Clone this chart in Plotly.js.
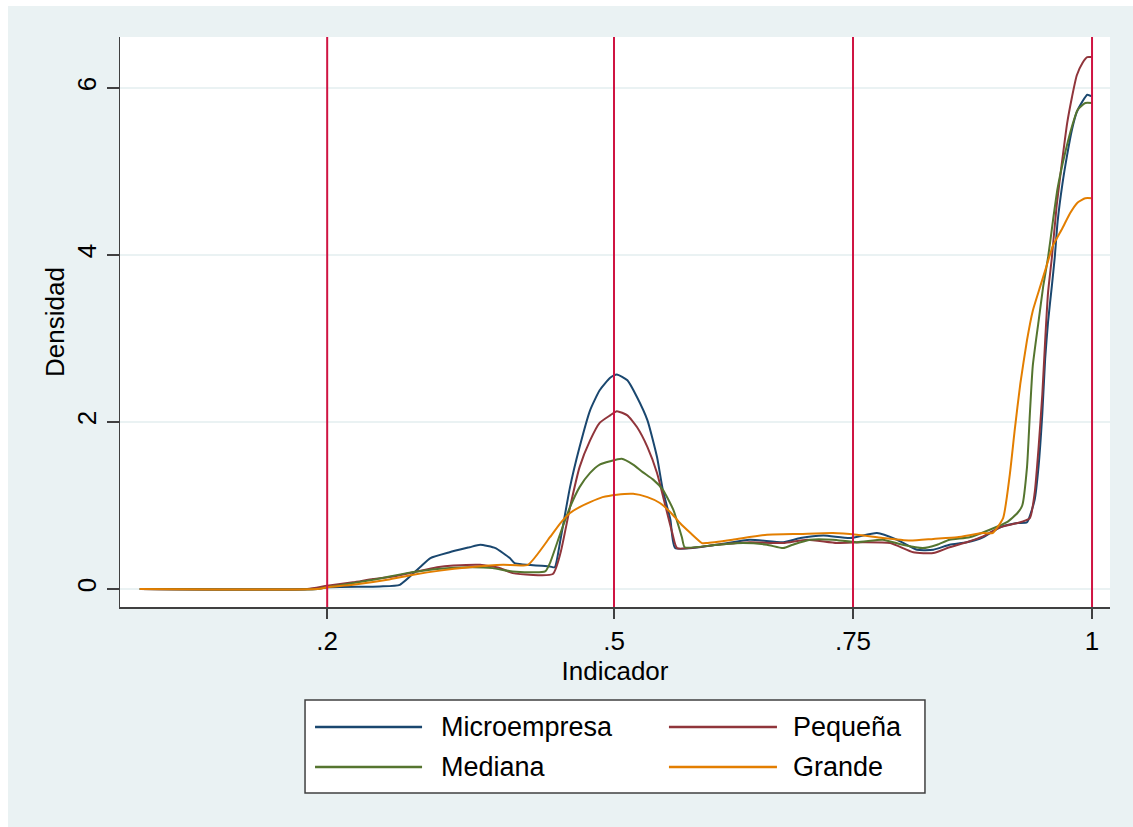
<!DOCTYPE html>
<html>
<head>
<meta charset="utf-8">
<script src="https://cdn.plot.ly/plotly-3.0.1.min.js"></script>
<style>html,body{margin:0;padding:0;background:#fff;}#chart{width:1133px;height:827px;}</style>
</head>
<body>
<div id="chart"></div>
<script>
// ---- Data ----
const seriesNames = ["Microempresa", "Pequeña", "Mediana", "Grande"];

const microX = [0.004, 0.19, 0.2, 0.255, 0.276, 0.297, 0.308, 0.328, 0.349, 0.36, 0.376, 0.391, 0.396, 0.433, 0.438, 0.444, 0.454, 0.464, 0.475, 0.485, 0.496, 0.503, 0.514, 0.524, 0.535, 0.545, 0.551, 0.559, 0.564, 0.608, 0.642, 0.677, 0.695, 0.719, 0.747, 0.775, 0.796, 0.817, 0.834, 0.851, 0.869, 0.886, 0.904, 0.922, 0.932, 0.94, 0.944, 0.948, 0.951, 0.954, 0.958, 0.961, 0.964, 0.969, 0.974, 0.979, 0.984, 0.99, 0.995, 1.0];
const microY = [0, 0, 0.02, 0.03, 0.05, 0.26, 0.37, 0.44, 0.50, 0.53, 0.49, 0.37, 0.31, 0.27, 0.26, 0.59, 1.22, 1.70, 2.14, 2.38, 2.53, 2.57, 2.50, 2.30, 2.02, 1.58, 1.19, 0.83, 0.49, 0.53, 0.59, 0.56, 0.61, 0.64, 0.61, 0.67, 0.59, 0.47, 0.47, 0.53, 0.56, 0.62, 0.74, 0.79, 0.80, 1.07, 1.46, 2.1, 2.76, 3.2, 3.63, 3.97, 4.4, 4.85, 5.2, 5.5, 5.71, 5.84, 5.92, 5.9];

const pequenaX = [0.004, 0.179, 0.2, 0.227, 0.248, 0.269, 0.290, 0.315, 0.332, 0.36, 0.381, 0.394, 0.436, 0.444, 0.454, 0.464, 0.475, 0.485, 0.496, 0.503, 0.514, 0.524, 0.535, 0.545, 0.553, 0.561, 0.566, 0.608, 0.642, 0.677, 0.702, 0.733, 0.760, 0.789, 0.813, 0.834, 0.851, 0.869, 0.886, 0.904, 0.922, 0.935, 0.94, 0.944, 0.948, 0.951, 0.954, 0.958, 0.963, 0.969, 0.974, 0.979, 0.984, 0.99, 0.995, 1.0];
const pequenaY = [0, 0, 0.04, 0.08, 0.12, 0.15, 0.2, 0.26, 0.28, 0.29, 0.25, 0.19, 0.18, 0.43, 0.98, 1.46, 1.78, 1.99, 2.08, 2.13, 2.08, 1.94, 1.70, 1.39, 1.03, 0.67, 0.49, 0.53, 0.56, 0.55, 0.59, 0.55, 0.56, 0.55, 0.44, 0.43, 0.50, 0.56, 0.63, 0.74, 0.79, 0.85, 1.15, 1.68, 2.33, 2.98, 3.55, 3.97, 4.59, 5.15, 5.58, 5.89, 6.15, 6.3, 6.37, 6.37];

const medianaX = [0.004, 0.19, 0.2, 0.248, 0.283, 0.315, 0.349, 0.373, 0.394, 0.428, 0.433, 0.444, 0.454, 0.464, 0.475, 0.485, 0.496, 0.508, 0.520, 0.530, 0.541, 0.551, 0.562, 0.571, 0.574, 0.608, 0.635, 0.660, 0.677, 0.687, 0.705, 0.729, 0.754, 0.781, 0.802, 0.823, 0.838, 0.851, 0.872, 0.893, 0.911, 0.922, 0.927, 0.932, 0.935, 0.938, 0.944, 0.949, 0.954, 0.959, 0.964, 0.972, 0.979, 0.985, 0.993, 1.0];
const medianaY = [0, 0, 0.02, 0.11, 0.19, 0.24, 0.26, 0.25, 0.21, 0.21, 0.31, 0.67, 0.98, 1.22, 1.39, 1.49, 1.53, 1.56, 1.49, 1.40, 1.31, 1.19, 0.95, 0.62, 0.50, 0.53, 0.55, 0.53, 0.49, 0.53, 0.59, 0.59, 0.56, 0.59, 0.53, 0.49, 0.53, 0.59, 0.62, 0.71, 0.80, 0.91, 1.0, 1.46, 2.1, 2.67, 3.2, 3.63, 3.97, 4.4, 4.8, 5.23, 5.54, 5.74, 5.82, 5.82];

const grandeX = [0.004, 0.19, 0.2, 0.227, 0.263, 0.290, 0.318, 0.349, 0.384, 0.410, 0.433, 0.444, 0.454, 0.464, 0.475, 0.488, 0.503, 0.520, 0.535, 0.548, 0.559, 0.569, 0.580, 0.592, 0.597, 0.624, 0.660, 0.695, 0.729, 0.754, 0.781, 0.810, 0.834, 0.859, 0.886, 0.896, 0.907, 0.914, 0.919, 0.925, 0.932, 0.938, 0.946, 0.953, 0.959, 0.969, 0.977, 0.985, 0.993, 1.0];
const grandeY = [0, 0, 0.02, 0.05, 0.11, 0.17, 0.22, 0.26, 0.29, 0.29, 0.62, 0.79, 0.91, 0.98, 1.04, 1.10, 1.13, 1.14, 1.10, 1.03, 0.92, 0.79, 0.67, 0.55, 0.55, 0.59, 0.65, 0.66, 0.67, 0.65, 0.61, 0.58, 0.60, 0.62, 0.67, 0.67, 0.85, 1.37, 1.89, 2.46, 2.98, 3.33, 3.63, 3.89, 4.11, 4.32, 4.5, 4.63, 4.68, 4.68];

const refLines = [0.2, 0.5, 0.75, 1];
const xTickVals = [0.2, 0.5, 0.75, 1];
const xTickText = [".2", ".5", ".75", "1"];
const yTickVals = [0, 2, 4, 6];
const yTickText = ["0", "2", "4", "6"];

// ---- Styles ----
const colors = ["#1a476f", "#90353b", "#55752f", "#e37e00"];
const FONT = "Liberation Sans, Arial, sans-serif";
const BG = "#eaf2f3";

const xs = [microX, pequenaX, medianaX, grandeX];
const ys = [microY, pequenaY, medianaY, grandeY];

const traces = seriesNames.map((n, i) => ({
  type: "scatter", mode: "lines", name: n,
  x: xs[i], y: ys[i],
  line: {color: colors[i], width: 2, shape: "spline", smoothing: 0.5},
  showlegend: false
}));

const shapes = [
  // outer graph region background
  {type: "rect", xref: "paper", yref: "paper", x0: -0.1131, x1: 1.03, y0: -0.40, y1: 1.0544,
   fillcolor: BG, line: {width: 0}, layer: "below"},
  // plot region
  {type: "rect", xref: "paper", yref: "paper", x0: 0, x1: 1, y0: 0, y1: 1,
   fillcolor: "#ffffff", line: {width: 0}, layer: "below"}
];
refLines.forEach(v => shapes.push({
  type: "line", xref: "x", yref: "paper", x0: v, x1: v, y0: 0, y1: 1,
  line: {color: "#cf1442", width: 2}, layer: "above"
}));

// custom legend box (paper coords)
shapes.push({type: "rect", xref: "paper", yref: "paper", x0: 0.1869, x1: 0.8131, y0: -0.3263, y1: -0.1632,
  fillcolor: "#ffffff", line: {color: "#404040", width: 1.5}});
const legPos = [
  {x0: 0.1970, x1: 0.3051, y: -0.2105, tx: 0.3223},
  {x0: 0.5545, x1: 0.6636, y: -0.2105, tx: 0.6778},
  {x0: 0.1970, x1: 0.3051, y: -0.2807, tx: 0.3223},
  {x0: 0.5545, x1: 0.6636, y: -0.2807, tx: 0.6778}
];
const annotations = [];
seriesNames.forEach((n, i) => {
  const p = legPos[i];
  shapes.push({type: "line", xref: "paper", yref: "paper", x0: p.x0, x1: p.x1, y0: p.y, y1: p.y,
    line: {color: colors[i], width: 2.5}});
  annotations.push({xref: "paper", yref: "paper", x: p.tx, y: p.y, xanchor: "left", yanchor: "middle",
    text: n, showarrow: false, font: {family: FONT, size: 27, color: "#000"}});
});

const layout = {
  width: 1133, height: 827,
  margin: {l: 120, r: 23, t: 37, b: 220},
  paper_bgcolor: "#ffffff",
  plot_bgcolor: "#ffffff",
  font: {family: FONT, size: 26, color: "#000"},
  showlegend: false,
  xaxis: {
    range: [-0.0167, 1.0188],
    tickvals: xTickVals, ticktext: xTickText,
    showgrid: false, zeroline: false,
    showline: true, linecolor: "#404040", linewidth: 1.5,
    ticks: "outside", ticklen: 10, tickwidth: 1.5, tickcolor: "#404040",
    tickfont: {family: FONT, size: 26, color: "#000"},
    title: {text: "Indicador", font: {family: FONT, size: 26, color: "#000"}, standoff: 0}
  },
  yaxis: {
    range: [-0.2156, 6.611],
    tickvals: yTickVals, ticktext: yTickText,
    showgrid: true, gridcolor: BG, gridwidth: 2,
    zeroline: false,
    showline: true, linecolor: "#404040", linewidth: 1.5,
    ticks: "outside", ticklen: 12, tickwidth: 1.5, tickcolor: "#404040",
    tickangle: -90,
    tickfont: {family: FONT, size: 26, color: "#000"},
    title: {text: "Densidad", font: {family: FONT, size: 26, color: "#000"}, standoff: 0}
  },
  shapes: shapes,
  annotations: annotations
};

Plotly.newPlot("chart", traces, layout, {staticPlot: true, displayModeBar: false});
</script>
</body>
</html>
